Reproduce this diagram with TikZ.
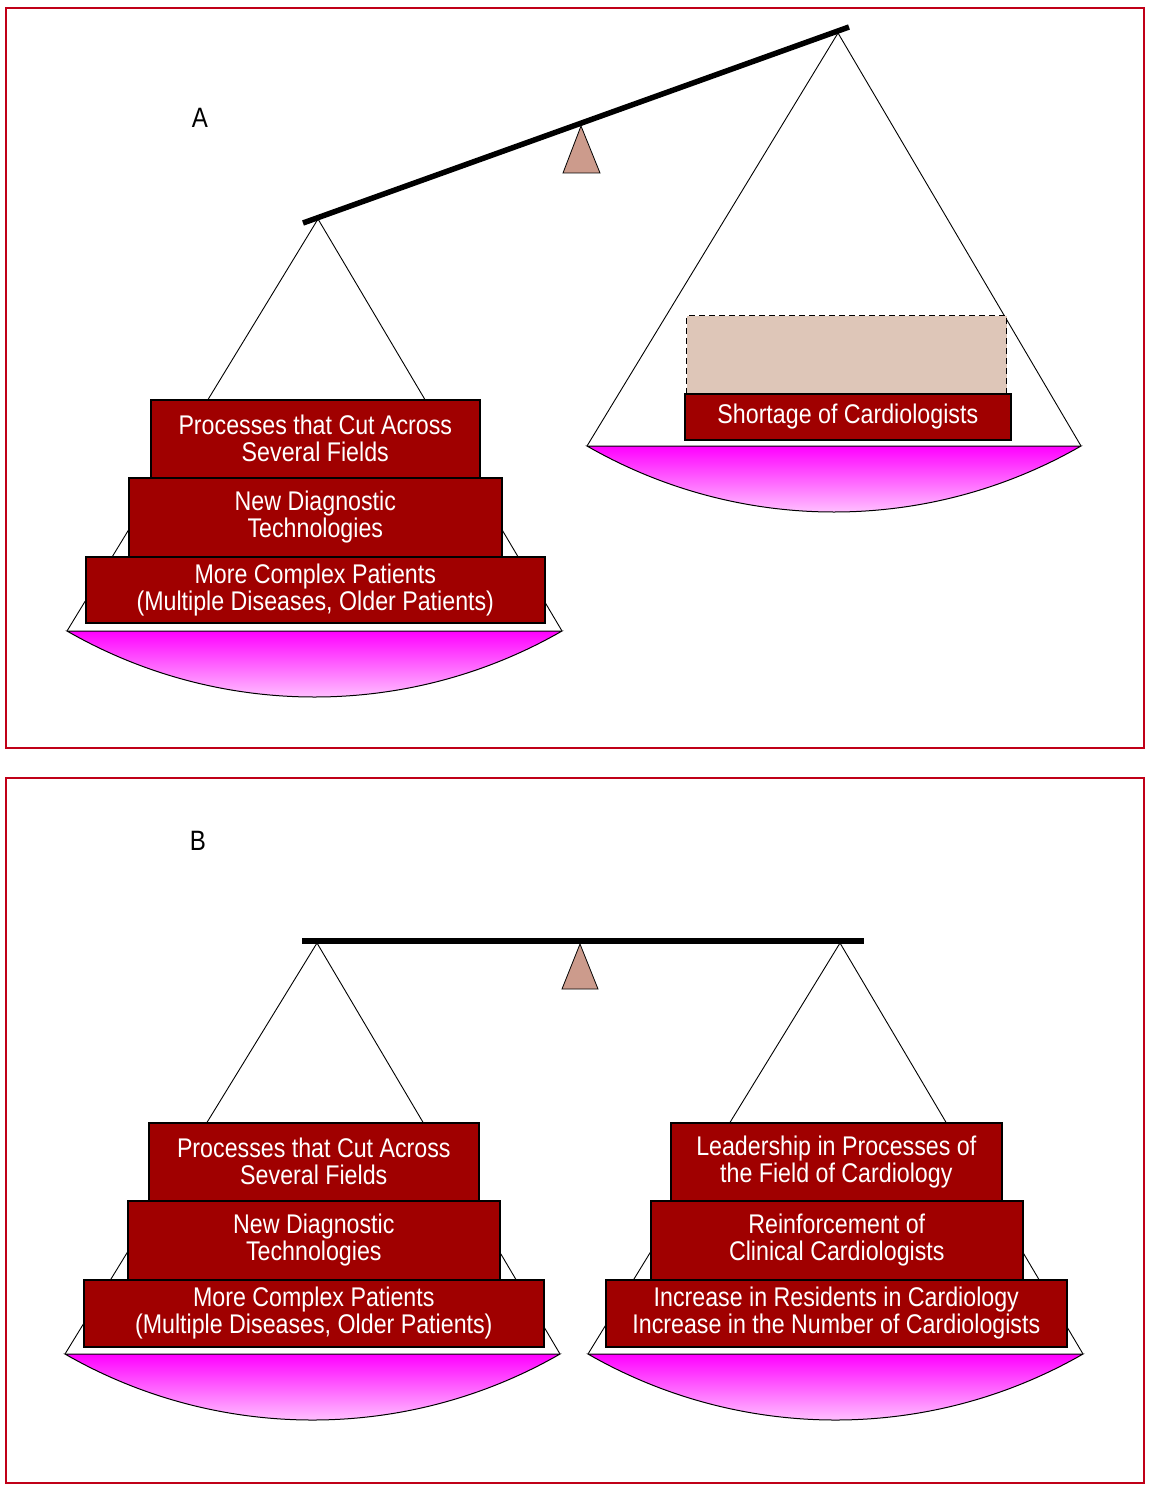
\documentclass[tikz,border=0pt]{standalone}
\usepackage{fontspec}
\setmainfont{Liberation Sans}[FakeStretch=0.86]
\definecolor{framered}{RGB}{192,0,24}
\definecolor{boxred}{RGB}{160,0,0}
\definecolor{fulcfill}{RGB}{204,155,140}
\definecolor{ghost}{RGB}{222,198,184}
\begin{document}
\begin{tikzpicture}[x=1pt,y=-1pt,
  frame/.style={draw=framered, line width=2pt},
  bx/.style={draw=black, line width=1.6pt, fill=boxred, text=white, align=center, inner sep=0pt, anchor=north west, font=\fontsize{27}{27}\selectfont},
  str/.style={draw=black, line width=0.9pt},
  pan/.style={draw=black, line width=1pt, top color=magenta, bottom color=white},
  beam/.style={line width=5.5pt, black},
  fulc/.style={draw=black, line width=0.8pt, fill=fulcfill},
  lbl/.style={font=\fontsize{28}{28}\selectfont, inner sep=0pt},
  ghostbox/.style={draw=black, dash pattern=on 6pt off 4pt, line width=1pt, fill=ghost}
]
\useasboundingbox (0,0) rectangle (1157,1490);
\fill[white] (0,0) rectangle (1157,1490);
% frames
\draw[frame] (6,8) rectangle (1144,748);
\draw[frame] (6,778) rectangle (1144,1483);
\node[lbl] (la) at (200,118) {A};
\node[lbl] (lb) at (198,841) {B};

% ===== Panel A =====
\coordinate (ba1) at (303,223);
\coordinate (ba2) at (849,27);
\coordinate (apL) at (318,219);
\coordinate (apR) at (838,33);
\coordinate (rL1) at (67,631);
\coordinate (rL2) at (562,631);
\coordinate (rR1) at (587,446);
\coordinate (rR2) at (1081,446);
\draw[str] (rL1) -- (apL) -- (rL2);
\draw[str] (rR1) -- (apR) -- (rR2);
\path[pan] (rL1) -- (rL2) .. controls (409,719) and (220,719) .. (rL1) -- cycle;
\path[pan] (rR1) -- (rR2) .. controls (928,534) and (740,534) .. (rR1) -- cycle;
\node[bx, minimum width=329pt, minimum height=78pt] (a1) at (150,399) {Processes that Cut Across\\Several Fields};
\node[bx, minimum width=373pt, minimum height=79pt] (a2) at (128,477) {New Diagnostic\\Technologies};
\node[bx, minimum width=459pt, minimum height=66pt] (a3) at (85,556) {More Complex Patients\\(Multiple Diseases, Older Patients)};
\node[ghostbox, anchor=north west, minimum width=320pt, minimum height=78pt, inner sep=0pt] (ag) at (686,315) {};
\node[bx, minimum width=326pt, minimum height=46pt] (as) at (684,393) {Shortage of Cardiologists};
\draw[beam] (ba1) -- (ba2);
\coordinate (fa) at (581,126);
\draw[fulc] (fa) -- (600,173) -- (563,173) -- cycle;

% ===== Panel B =====
\coordinate (bb1) at (302,941);
\coordinate (bb2) at (864,941);
\coordinate (bpL) at (317,943);
\coordinate (bpR) at (840,943);
\coordinate (sL1) at (65,1354);
\coordinate (sL2) at (560,1354);
\coordinate (sR1) at (588,1354);
\coordinate (sR2) at (1083,1354);
\draw[str] (sL1) -- (bpL) -- (sL2);
\draw[str] (sR1) -- (bpR) -- (sR2);
\path[pan] (sL1) -- (sL2) .. controls (407,1442) and (218,1442) .. (sL1) -- cycle;
\path[pan] (sR1) -- (sR2) .. controls (930,1442) and (741,1442) .. (sR1) -- cycle;
\node[bx, minimum width=330pt, minimum height=78pt] (b1) at (148,1122) {Processes that Cut Across\\Several Fields};
\node[bx, minimum width=372pt, minimum height=79pt] (b2) at (127,1200) {New Diagnostic\\Technologies};
\node[bx, minimum width=460pt, minimum height=67pt] (b3) at (83,1279) {More Complex Patients\\(Multiple Diseases, Older Patients)};
\node[bx, minimum width=331pt, minimum height=78pt] (c1) at (670,1122) {Leadership in Processes of\\the Field of Cardiology};
\node[bx, minimum width=372pt, minimum height=79pt] (c2) at (650,1200) {Reinforcement of\\Clinical Cardiologists};
\node[bx, minimum width=461pt, minimum height=67pt] (c3) at (605,1279) {Increase in Residents in Cardiology\\Increase in the Number of Cardiologists};
\draw[beam] (bb1) -- (bb2);
\coordinate (fb) at (580,944);
\draw[fulc] (fb) -- (598,989) -- (562,989) -- cycle;
\end{tikzpicture}
\end{document}
